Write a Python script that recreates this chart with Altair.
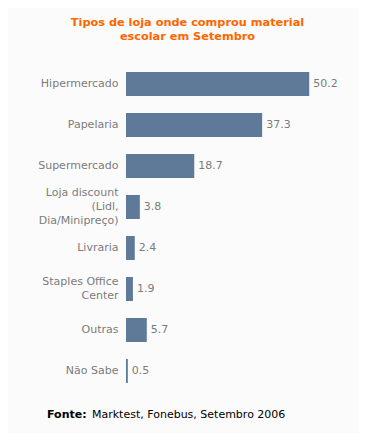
import altair as alt
import pandas as pd

categories = ["Hipermercado", "Papelaria", "Supermercado",
              "Loja discount|(Lidl,|Dia/Minipreço)", "Livraria",
              "Staples Office|Center", "Outras", "Não Sabe"]
values = [50.2, 37.3, 18.7, 3.8, 2.4, 1.9, 5.7, 0.5]
title_lines = ["Tipos de loja onde comprou material", "escolar em Setembro"]
source_bold = "Fonte:"
source_text = "Marktest, Fonebus, Setembro 2006"

df = pd.DataFrame({"cat": categories, "val": values})

W, H = 219, 328
FONT = "DejaVu Sans"
GRAY = "#7b7b7b"

y_enc = alt.Y("cat:N", sort=None, title=None,
              scale=alt.Scale(paddingInner=0.415, paddingOuter=0.2075),
              axis=alt.Axis(domain=False, ticks=False, labelPadding=8,
                            labelFont=FONT, labelFontSize=11, labelColor=GRAY,
                            labelLineHeight=14, labelLimit=200,
                            labelOffset={"expr": "-(length(split(datum.value, '|')) - 1) * 7"},
                            labelExpr="split(datum.label, '|')"))
x_enc = alt.X("val:Q", title=None, scale=alt.Scale(domain=[0, 60]), axis=None)

bars = alt.Chart(df).mark_bar(color="#5e7a98").encode(x=x_enc, y=y_enc)
labels = alt.Chart(df).mark_text(align="left", baseline="middle", dx=4,
                                 font=FONT, fontSize=11, color=GRAY).encode(
    x=x_enc, y=y_enc, text=alt.Text("val:Q", format=".1f"))

t1 = alt.Chart(pd.DataFrame({"t": [title_lines[0]]})).mark_text(
    align="center", baseline="middle", font=FONT, fontSize=11.3,
    fontWeight="bold", color="#ff6600").encode(
    x=alt.value(61.5), y=alt.value(-40.5), text="t:N")
t2 = alt.Chart(pd.DataFrame({"t": [title_lines[1]]})).mark_text(
    align="center", baseline="middle", font=FONT, fontSize=11.3,
    fontWeight="bold", color="#ff6600").encode(
    x=alt.value(61.5), y=alt.value(-26.5), text="t:N")

f1 = alt.Chart(pd.DataFrame({"t": [source_bold]})).mark_text(
    align="left", baseline="middle", font=FONT, fontSize=11, fontWeight="bold",
    color="#000000").encode(x=alt.value(-79), y=alt.value(351.5), text="t:N")
f2 = alt.Chart(pd.DataFrame({"t": [source_text]})).mark_text(
    align="left", baseline="middle", font=FONT, fontSize=11,
    color="#000000").encode(x=alt.value(-34), y=alt.value(351.5), text="t:N")

chart = alt.layer(bars, labels, t1, t2, f1, f2).properties(
    width=W, height=H,
    autosize=alt.AutoSizeParams(type="none"),
    padding={"left": 118, "top": 55.5, "right": 14, "bottom": 41.5},
    background="#fbfbfb",
).configure_view(stroke=None)

chart.save("out.html", embed_options={"renderer": "svg", "actions": False})
